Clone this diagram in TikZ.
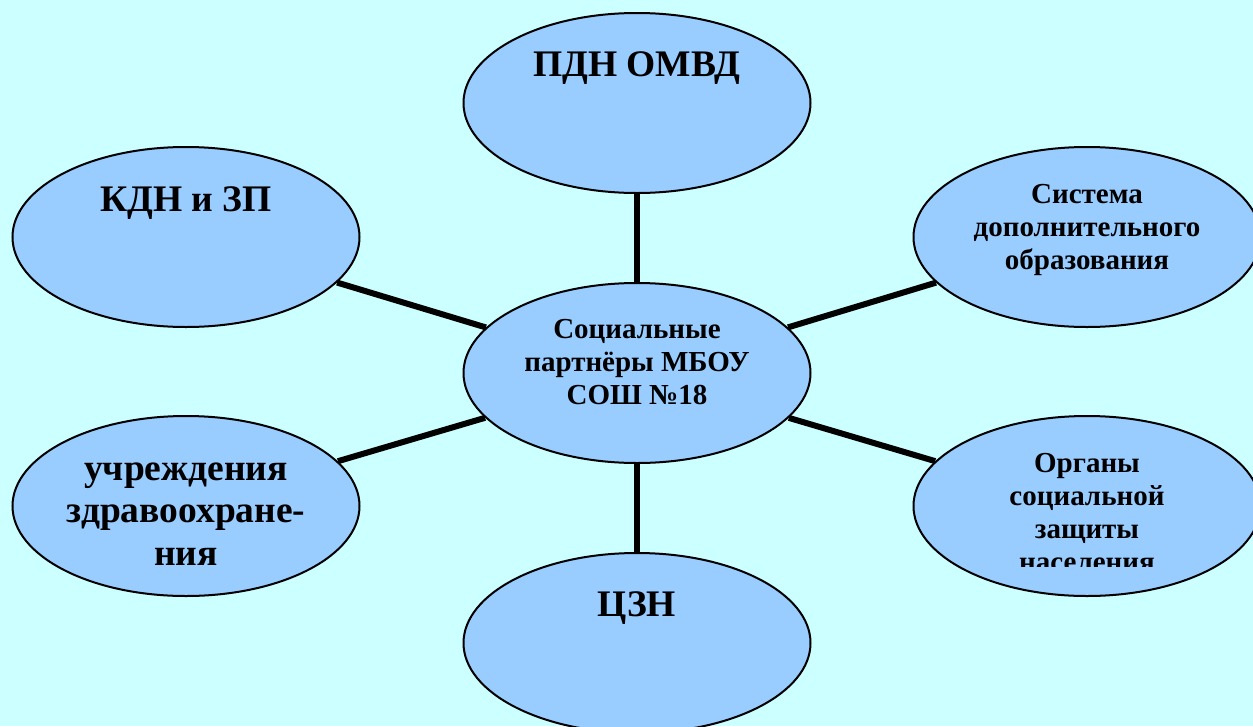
\documentclass[tikz,border=0pt]{standalone}
\usepackage{fontspec}
\setmainfont{Liberation Serif}
\usepackage{tikz}
\usetikzlibrary{shapes.geometric}
\definecolor{bgcyan}{HTML}{CCFFFF}
\definecolor{ellblue}{HTML}{99CCFF}

\begin{document}
\begin{tikzpicture}[x=1pt, y=-1pt,
    partner/.style={ellipse, draw, line width=2pt, fill=ellblue, minimum width=347pt, minimum height=180pt, inner sep=0pt},
    bigtext/.style={font=\bfseries\fontsize{37.5}{42.5}\selectfont, align=center, inner sep=0pt},
    smalltext/.style={font=\bfseries\fontsize{29}{33}\selectfont, align=center, inner sep=0pt},
    link/.style={line width=6pt}]
    \clip (0, 0) rectangle (1253, 726);
    \fill [bgcyan] (0, 0) rectangle (1253, 726);
    % ellipses
    \node [partner] (0) at (637, 373) {}; % centre
    \node [partner] (1) at (637, 103) {};
    \node [partner] (2) at (186, 237) {};
    \node [partner] (3) at (1087, 237) {};
    \node [partner] (4) at (186, 506) {};
    \node [partner] (5) at (1087, 506) {};
    \node [partner] (6) at (637, 643) {};
    % links
    \draw [link] (0) to (1);
    \draw [link] (0) to (2);
    \draw [link] (0) to (3);
    \draw [link] (0) to (4);
    \draw [link] (0) to (5);
    \draw [link] (0) to (6);
    % texts
    \node [smalltext] (10) at (637, 362) {Социальные\\партнёры МБОУ\\СОШ №18};
    \node [bigtext, anchor=base] (11) at (637, 76) {ПДН ОМВД};
    \node [bigtext, anchor=base] (12) at (186, 211) {КДН и ЗП};
    \node [smalltext] (13) at (1087, 230) {Система\\дополнительного\\образования};
    \node [bigtext] (14) at (186, 514) {учреждения\\здравоохране-\\ния};
    \begin{scope}
        \clip (900, 440) rectangle (1253, 566);
        \node [smalltext] (15) at (1087, 513) {Органы\\социальной\\защиты\\населения};
    \end{scope}
    \node [bigtext, anchor=base] (16) at (637, 616) {ЦЗН};
\end{tikzpicture}
\end{document}
